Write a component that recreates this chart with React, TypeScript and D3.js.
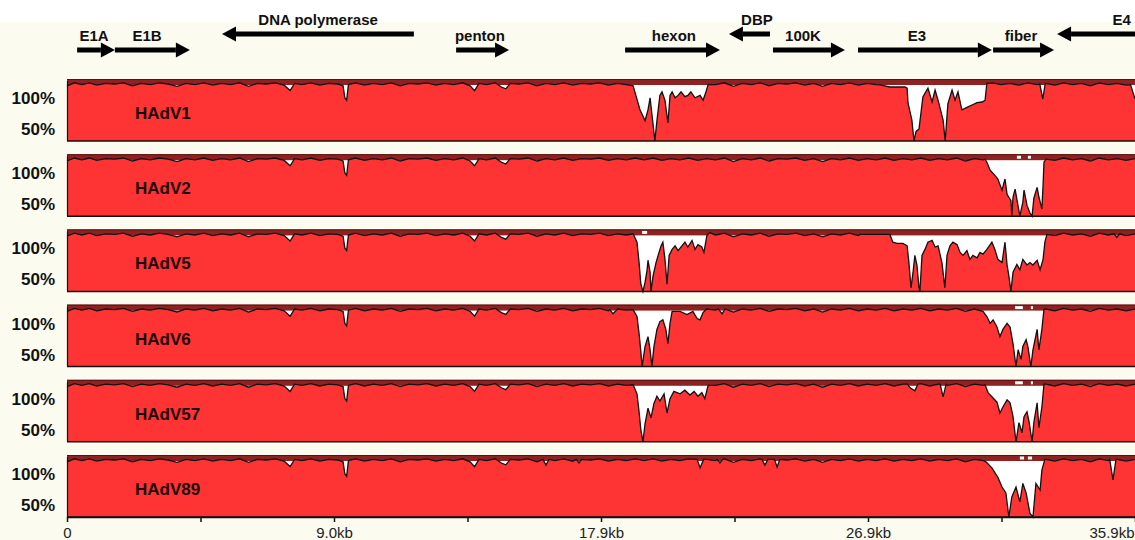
import React, { useRef, useEffect } from "react";
import * as d3 from "d3";

const genomeKb = 35.9;
const tickKb = [0, 8.975, 17.95, 26.925, 35.9];
const tickLabels = ["0", "9.0kb", "17.9kb", "26.9kb", "35.9kb"];
const minorTickKb = [4.4875, 13.4625, 22.4375, 31.4125];

// gene annotations (kb): tail -> head, row 0 = upper, 1 = lower
const geneNames = ["E1A", "E1B", "DNA polymerase", "penton", "hexon", "DBP", "100K", "E3", "fiber", "E4"];
const geneFrom = [0.34, 1.61, 11.66, 13.08, 18.76, 23.63, 23.73, 26.59, 31.13, 36.1];
const geneTo = [1.61, 4.13, 5.21, 14.86, 21.95, 22.25, 26.15, 31.09, 33.18, 33.28];
const geneRow = [1, 1, 0, 1, 1, 0, 1, 1, 1, 0];
const geneLabelKb = [0.91, 2.69, 8.44, 13.88, 20.4, 23.19, 24.74, 28.57, 32.07, 35.45];

const virusNames = ["HAdV1", "HAdV2", "HAdV5", "HAdV6", "HAdV57", "HAdV89"];

// identity (%) shared by all genomes outside variable regions
const baseline = [
  [0, 96], [0.25, 98.5], [0.5, 97], [0.75, 98.5], [1.0, 96.5], [1.3, 98], [1.6, 97.5], [1.9, 98.5],
  [2.2, 96], [2.5, 98], [2.8, 97], [3.1, 98.5], [3.4, 97.5], [3.7, 95.5], [4.0, 98], [4.3, 97],
  [4.6, 98.5], [4.9, 96.5], [5.2, 98], [5.5, 97], [5.8, 98.5], [6.1, 95.5], [6.4, 98], [6.7, 97.5],
  [7.0, 98.5], [7.3, 96.5], [7.5, 92], [7.65, 98], [7.9, 97], [8.2, 98.5], [8.5, 96.5], [8.8, 98],
  [9.1, 97.5], [9.28, 96], [9.34, 86], [9.4, 84], [9.46, 97], [9.7, 98.5], [10.0, 96.5], [10.3, 98],
  [10.6, 97], [10.9, 98.5], [11.2, 96], [11.5, 98], [11.8, 97.5], [12.1, 98.5], [12.4, 96.5], [12.7, 98],
  [13.0, 97], [13.3, 98.5], [13.55, 96], [13.7, 92], [13.85, 98], [14.1, 97], [14.4, 98.5], [14.6, 95],
  [14.75, 93.5], [14.9, 98], [15.2, 97.5], [15.5, 98.5], [15.8, 96], [16.1, 98], [16.4, 97], [16.7, 98.5],
  [17.0, 96.5], [17.3, 98], [17.6, 97.5], [17.9, 98.5], [18.2, 96.5], [18.5, 98], [18.8, 97], [19.1, 98.5],
  [19.4, 97], [19.7, 98.5], [20.0, 96.5], [20.3, 98], [20.6, 97], [20.9, 98.5], [21.2, 96.5], [21.5, 98],
  [21.8, 97], [22.1, 98.5], [22.4, 95.5], [22.7, 98], [23.0, 97], [23.3, 98.5], [23.6, 96], [23.9, 98],
  [24.2, 97.5], [24.5, 98.5], [24.8, 96.5], [25.1, 98], [25.4, 95.5], [25.7, 98], [26.0, 97], [26.3, 98.5],
  [26.6, 96.5], [26.9, 98], [27.2, 97], [27.5, 98.5], [27.8, 96.5], [28.1, 98], [28.4, 97], [28.7, 98.5],
  [29.0, 96.5], [29.3, 98], [29.6, 97], [29.9, 98.5], [30.2, 96], [30.5, 98], [30.8, 97], [31.1, 98.5],
  [31.4, 97], [31.7, 98], [32.0, 96.5], [32.3, 98.5], [32.6, 97], [32.9, 98], [33.2, 96.5], [33.5, 98.5],
  [33.8, 97], [34.1, 98], [34.4, 96], [34.7, 98.5], [35.0, 97], [35.3, 98], [35.6, 96.5], [35.9, 98],
];

// variable regions per genome, [kb, identity %]
const hadv1 = [
  [[19.03, 96], [19.26, 76], [19.43, 67], [19.53, 76], [19.6, 86], [19.7, 64], [19.76, 45], [19.83, 67],
   [19.93, 88], [20.0, 91], [20.1, 84], [20.2, 65], [20.27, 88], [20.34, 91], [20.44, 86], [20.54, 88],
   [20.64, 91], [20.77, 87], [20.87, 88], [20.97, 91], [21.11, 86], [21.28, 88], [21.38, 84], [21.48, 91], [21.55, 97]],
  [[27.33, 96.7], [27.66, 95], [28.17, 95], [28.24, 94], [28.27, 81.7], [28.34, 74], [28.4, 67.5], [28.47, 45],
   [28.54, 58], [28.64, 60], [28.77, 86.7], [28.94, 94], [29.08, 82.5], [29.18, 92.5], [29.28, 84], [29.45, 67.5],
   [29.52, 45], [29.61, 81], [29.75, 92.5], [29.85, 84], [29.95, 91], [30.08, 76], [30.25, 78], [30.42, 80],
   [30.59, 82], [30.76, 82.5], [30.86, 84], [30.92, 98]],
  [[32.7, 97.5], [32.8, 85], [32.88, 97.5]],
  [[35.75, 97], [35.9, 85]],
];
const hadv2 = [
  [[30.86, 97.5], [30.92, 95], [31.03, 88.3], [31.19, 84], [31.29, 81], [31.43, 71.7], [31.53, 81], [31.6, 68.3],
   [31.73, 63], [31.76, 45], [31.8, 66], [31.87, 72.5], [31.93, 64], [32.03, 45], [32.13, 61.7], [32.17, 71.7],
   [32.27, 59], [32.37, 52.5], [32.44, 50], [32.5, 65], [32.61, 74], [32.67, 66], [32.77, 56], [32.81, 76],
   [32.84, 95], [32.91, 97.5]],
];
const hadv5 = [
  [[19.03, 98], [19.16, 91], [19.23, 74], [19.29, 56], [19.36, 45], [19.43, 57.5], [19.5, 68], [19.53, 76],
   [19.6, 66], [19.63, 45], [19.7, 63], [19.8, 74], [19.87, 80], [19.97, 88], [20.03, 91], [20.1, 77],
   [20.17, 56], [20.24, 80], [20.34, 85], [20.44, 88], [20.54, 84], [20.67, 88], [20.77, 91], [20.87, 87],
   [21.01, 92.5], [21.11, 85], [21.21, 89], [21.34, 87], [21.41, 82.5], [21.51, 96.7], [21.61, 99]],
  [[26.66, 97.5], [27.66, 97.5], [27.76, 91], [27.9, 90], [28.1, 90], [28.24, 88], [28.3, 74], [28.37, 53],
   [28.44, 66], [28.5, 80], [28.57, 72], [28.64, 53], [28.67, 45], [28.74, 80], [28.84, 85], [28.94, 91],
   [29.08, 92.5], [29.18, 87], [29.28, 88], [29.41, 74], [29.51, 53], [29.58, 80], [29.68, 88], [29.78, 91],
   [29.92, 89], [30.02, 82.5], [30.12, 80], [30.25, 84], [30.35, 76.7], [30.45, 80], [30.59, 78], [30.69, 82.5],
   [30.79, 81], [30.92, 85], [31.09, 91], [31.19, 85], [31.29, 76.7], [31.43, 74], [31.53, 91], [31.6, 72],
   [31.66, 63], [31.73, 45], [31.8, 66], [31.93, 72.5], [32.03, 68], [32.13, 76.7], [32.27, 72], [32.37, 74],
   [32.47, 72], [32.61, 76], [32.71, 68], [32.81, 76.7], [32.87, 91], [32.94, 97.5]],
  [[35.2, 98], [35.29, 95], [35.38, 98]],
];
const hadv6 = [
  [[18.25, 97.5], [18.35, 94], [18.49, 97.5]],
  [[19.03, 97.5], [19.16, 91.7], [19.23, 77.5], [19.29, 62.5], [19.33, 45], [19.43, 66.7], [19.53, 75], [19.6, 64],
   [19.66, 45], [19.73, 66.7], [19.83, 81], [19.93, 87.5], [20.03, 89], [20.13, 81], [20.2, 69], [20.27, 86],
   [20.34, 96], [20.61, 96], [20.84, 93.3], [21.04, 96], [21.18, 90], [21.28, 89], [21.38, 95], [21.5, 98]],
  [[21.9, 98], [22.02, 94], [22.12, 98]],
  [[30.79, 96], [30.92, 91.7], [31.03, 86], [31.13, 89], [31.26, 83], [31.36, 75], [31.46, 81], [31.6, 86],
   [31.7, 83], [31.8, 69], [31.9, 45], [31.97, 64], [32.07, 56], [32.13, 66.7], [32.24, 72.5], [32.3, 66.7],
   [32.4, 45], [32.47, 64], [32.61, 81], [32.67, 64], [32.77, 81], [32.84, 97.5]],
];
const hadv57 = [
  [[19.03, 97.5], [19.16, 90], [19.23, 75], [19.29, 60], [19.36, 45], [19.43, 65], [19.53, 78], [19.63, 70],
   [19.73, 82], [19.83, 88], [19.93, 84], [20.07, 90], [20.17, 74], [20.27, 86], [20.4, 92], [20.61, 90],
   [20.77, 93], [20.94, 89], [21.08, 92], [21.21, 88], [21.34, 91], [21.44, 86], [21.55, 97]],
  [[28.25, 98], [28.34, 95], [28.5, 92.5], [28.6, 98]],
  [[29.35, 98], [29.45, 87.5], [29.55, 98]],
  [[30.86, 97.5], [30.96, 91], [31.09, 87.5], [31.26, 83], [31.36, 74], [31.46, 79], [31.6, 85], [31.7, 82.5],
   [31.8, 71], [31.9, 45], [32.0, 66], [32.1, 57.5], [32.17, 71], [32.27, 75], [32.34, 66.7], [32.44, 45],
   [32.5, 66], [32.61, 82.5], [32.67, 61.7], [32.77, 79], [32.84, 98]],
];
const hadv89 = [
  [[16.0, 98], [16.1, 93.3], [16.2, 98]],
  [[17.12, 98], [17.21, 95], [17.3, 98]],
  [[21.18, 98], [21.28, 91], [21.4, 98]],
  [[21.86, 98], [21.95, 95], [22.04, 98]],
  [[23.36, 98], [23.46, 93.3], [23.56, 98], [23.78, 98], [23.87, 91.7], [23.96, 98]],
  [[30.89, 96], [31.09, 91], [31.29, 83], [31.43, 75], [31.56, 70], [31.66, 45], [31.76, 66.7], [31.9, 75],
   [32.03, 62.5], [32.13, 78], [32.24, 70], [32.37, 53], [32.47, 45], [32.57, 78], [32.71, 72.5], [32.77, 89],
   [32.87, 98]],
  [[35.05, 98], [35.16, 81], [35.26, 98]],
];
const regions = [hadv1, hadv2, hadv5, hadv6, hadv57, hadv89];

// breaks in the conserved band on top of each track (kb)
const bandGaps = [
  [],
  [[31.93, 32.07], [32.3, 32.4]],
  [[19.33, 19.5]],
  [[31.87, 32.13], [32.4, 32.47]],
  [[31.87, 32.13], [32.4, 32.47]],
  [[32.03, 32.17], [32.3, 32.44]],
];

const mergeTrack = (regs) => {
  const spans = regs.map(r => [r[0][0], r[r.length - 1][0]]);
  const base = baseline.filter(([k]) => !spans.some(([a, b]) => k >= a && k <= b));
  return [...base, ...regs.flat()].sort((a, b) => a[0] - b[0]);
};

const W = 1135;
const H = 540;
const FONT = "'Liberation Sans', Arial, sans-serif";

const VistaPlot = () => {
  const ref = useRef(null);

  useEffect(() => {
    const svg = d3.select(ref.current);
    svg.selectAll("*").remove();

    const x = d3.scaleLinear().domain([0, genomeKb]).range([67, 1135]);
    const panelTop0 = 79;
    const panelStep = 75.2;
    const panelH = 62;
    const bandH = 6;
    const y = d3.scaleLinear().domain([50, 100]).range([panelH, 2]).clamp(true);

    svg.append("rect").attr("width", W).attr("height", H).attr("fill", "#fbfbef");
    svg.append("rect").attr("width", W).attr("height", 22).attr("fill", "#ffffff");

    // gene map
    const rowArrowY = [34, 50];
    const rowLabelY = [25, 41];
    const genes = svg.append("g");
    geneNames.forEach((name, i) => {
      const x0 = x(geneFrom[i]);
      const x1 = x(geneTo[i]);
      const dir = x1 > x0 ? 1 : -1;
      const ay = rowArrowY[geneRow[i]];
      const headLen = 14;
      genes.append("line")
        .attr("x1", x0).attr("x2", x1 - dir * headLen)
        .attr("y1", ay).attr("y2", ay)
        .attr("stroke", "#000").attr("stroke-width", 5);
      genes.append("path")
        .attr("d", `M${x1},${ay} L${x1 - dir * headLen},${ay - 7.5} L${x1 - dir * headLen},${ay + 7.5} Z`)
        .attr("fill", "#000");
      genes.append("text")
        .attr("x", x(geneLabelKb[i])).attr("y", rowLabelY[geneRow[i]])
        .attr("text-anchor", "middle")
        .attr("font-family", FONT).attr("font-weight", "bold").attr("font-size", 15)
        .attr("fill", "#111")
        .text(name);
    });

    const area = d3.area().x(d => x(d[0])).y0(panelH).y1(d => y(d[1]));
    const line = d3.line().x(d => x(d[0])).y(d => y(d[1]));

    virusNames.forEach((name, i) => {
      const top = panelTop0 + i * panelStep;
      const g = svg.append("g").attr("transform", `translate(0,${top})`);
      const data = mergeTrack(regions[i]);

      g.append("rect").attr("x", x(0)).attr("width", x(genomeKb) - x(0)).attr("height", panelH).attr("fill", "#ffffff");
      g.append("rect").attr("x", x(0)).attr("width", x(genomeKb) - x(0)).attr("height", bandH).attr("fill", "#8e2222");
      bandGaps[i].forEach(([a, b]) => {
        g.append("rect").attr("x", x(a)).attr("y", 1.5).attr("width", x(b) - x(a)).attr("height", bandH - 3).attr("fill", "#ffffff");
      });
      g.append("line").attr("x1", x(0)).attr("x2", x(genomeKb)).attr("y1", 0.5).attr("y2", 0.5)
        .attr("stroke", "#5a1010").attr("stroke-width", 1);

      g.append("path").datum(data).attr("d", area).attr("fill", "#fe3333");
      g.append("path").datum(data).attr("d", line).attr("fill", "none")
        .attr("stroke", "#111").attr("stroke-width", 1.3).attr("stroke-linejoin", "miter");

      g.append("line").attr("x1", x(0)).attr("x2", x(genomeKb)).attr("y1", panelH).attr("y2", panelH)
        .attr("stroke", "#111").attr("stroke-width", 1.5);
      g.append("line").attr("x1", x(0) + 0.5).attr("x2", x(0) + 0.5).attr("y1", 2).attr("y2", panelH)
        .attr("stroke", "#111").attr("stroke-width", 1.2);

      g.append("text").attr("x", 135).attr("y", 40)
        .attr("font-family", FONT).attr("font-weight", "bold").attr("font-size", 17)
        .attr("fill", "#1a0808").text(name);

      const yl = g.append("g").attr("font-family", FONT).attr("font-weight", "bold")
        .attr("font-size", 17).attr("text-anchor", "end").attr("fill", "#111");
      yl.append("text").attr("x", 55).attr("y", 25).text("100%");
      yl.append("text").attr("x", 55).attr("y", 56).text("50%");
    });

    const axisY = panelTop0 + 5 * panelStep + panelH;
    const ax = svg.append("g").attr("transform", `translate(0,${axisY})`)
      .call(d3.axisBottom(x).tickValues(tickKb).tickFormat((d, i) => tickLabels[i]).tickSize(5).tickSizeOuter(0).tickPadding(5));
    ax.select(".domain").attr("stroke", "#111").attr("stroke-width", 1.5);
    ax.selectAll(".tick line").attr("stroke", "#111").attr("stroke-width", 1.5);
    ax.selectAll("text").attr("font-family", FONT).attr("font-size", 15).attr("fill", "#222");
    // last label sits against the right edge
    ax.selectAll(".tick text").filter((d, i, n) => i === n.length - 1)
      .attr("text-anchor", "end").attr("x", -1);

    const minor = svg.append("g").attr("transform", `translate(0,${axisY})`)
      .call(d3.axisBottom(x).tickValues(minorTickKb).tickFormat(() => "").tickSize(5).tickSizeOuter(0));
    minor.select(".domain").remove();
    minor.selectAll(".tick line").attr("stroke", "#111").attr("stroke-width", 1.5);
  }, []);

  return <svg ref={ref} width={W} height={H} style={{ position: "fixed", left: 0, top: 0, display: "block" }}></svg>;
};

export default function App() {
  return <VistaPlot />;
}
